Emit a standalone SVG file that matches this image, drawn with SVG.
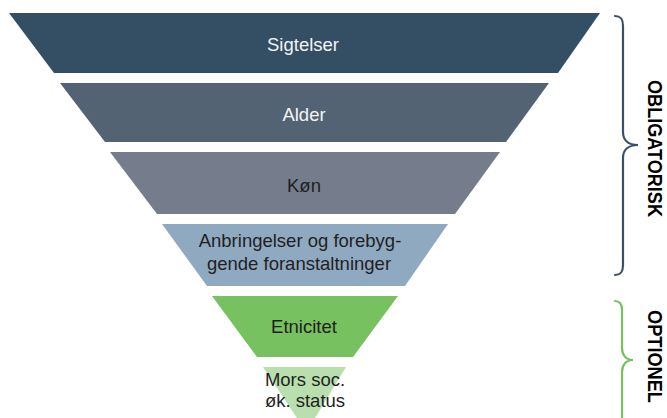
<svg xmlns="http://www.w3.org/2000/svg" width="667" height="418" viewBox="0 0 667 418">
<style>
.t{font-family:"Liberation Sans",Arial,sans-serif;font-size:18.5px;text-anchor:middle}
.w{fill:#f2f4f6}
.d{fill:#1f1f1f}
.side{font-family:"Liberation Sans",Arial,sans-serif;font-size:20.5px;font-weight:bold;fill:#000;text-anchor:middle}
.brace{fill:none;stroke-width:2.2;stroke-linecap:round}
</style>
<rect width="667" height="418" fill="#ffffff"/>
<g id="sigtelser">
<polygon points="9,13 600,13 558,73 54,73" fill="#344e63"/>
<text class="t w" x="303" y="51">Sigtelser</text>
</g>
<g id="alder">
<polygon points="60,83 549,83 506,142 105,142" fill="#546374"/>
<text class="t w" x="304" y="121">Alder</text>
</g>
<g id="koen">
<polygon points="110,152 500,152 455,214 157,214" fill="#757c8c"/>
<text class="t d" x="304" y="192">Køn</text>
</g>
<g id="anbringelser">
<polygon points="162,224 448,224 405,286 207,286" fill="#8fa9c1"/>
<text class="t d" x="300" y="247">Anbringelser og forebyg-</text>
<text class="t d" x="299" y="270">gende foranstaltninger</text>
</g>
<g id="etnicitet">
<polygon points="212,296 398,296 353,357 257,357" fill="#77c160"/>
<text class="t d" x="304" y="333">Etnicitet</text>
</g>
<g id="mors">
<polygon points="263,367 346,367 315,418 297,418" fill="#b9dfae"/>
<text class="t d" x="305" y="386">Mors soc.</text>
<text class="t d" x="305" y="407">øk. status</text>
</g>
<g id="connectors">
<path class="brace" stroke="#3a5068" d="M615,16 C621,16 623,19 623,26 L623,132 C623,140 628,145 638,145 C628,145 623,150 623,158 L623,265 C623,272 621,275 615,275"/>
<path class="brace" stroke="#77c160" d="M615,301 C620,301 622,304 622,310 L622,348 C622,355 626,360 633,360 C626,360 622,365 622,372 L622,420"/>
</g>
<g id="obligatorisk">
<text class="side" transform="translate(648,148.5) rotate(90)" textLength="137" lengthAdjust="spacingAndGlyphs">OBLIGATORISK</text>
</g>
<g id="optionel">
<text class="side" transform="translate(648,356.5) rotate(90)" textLength="93" lengthAdjust="spacingAndGlyphs">OPTIONEL</text>
</g>
</svg>
